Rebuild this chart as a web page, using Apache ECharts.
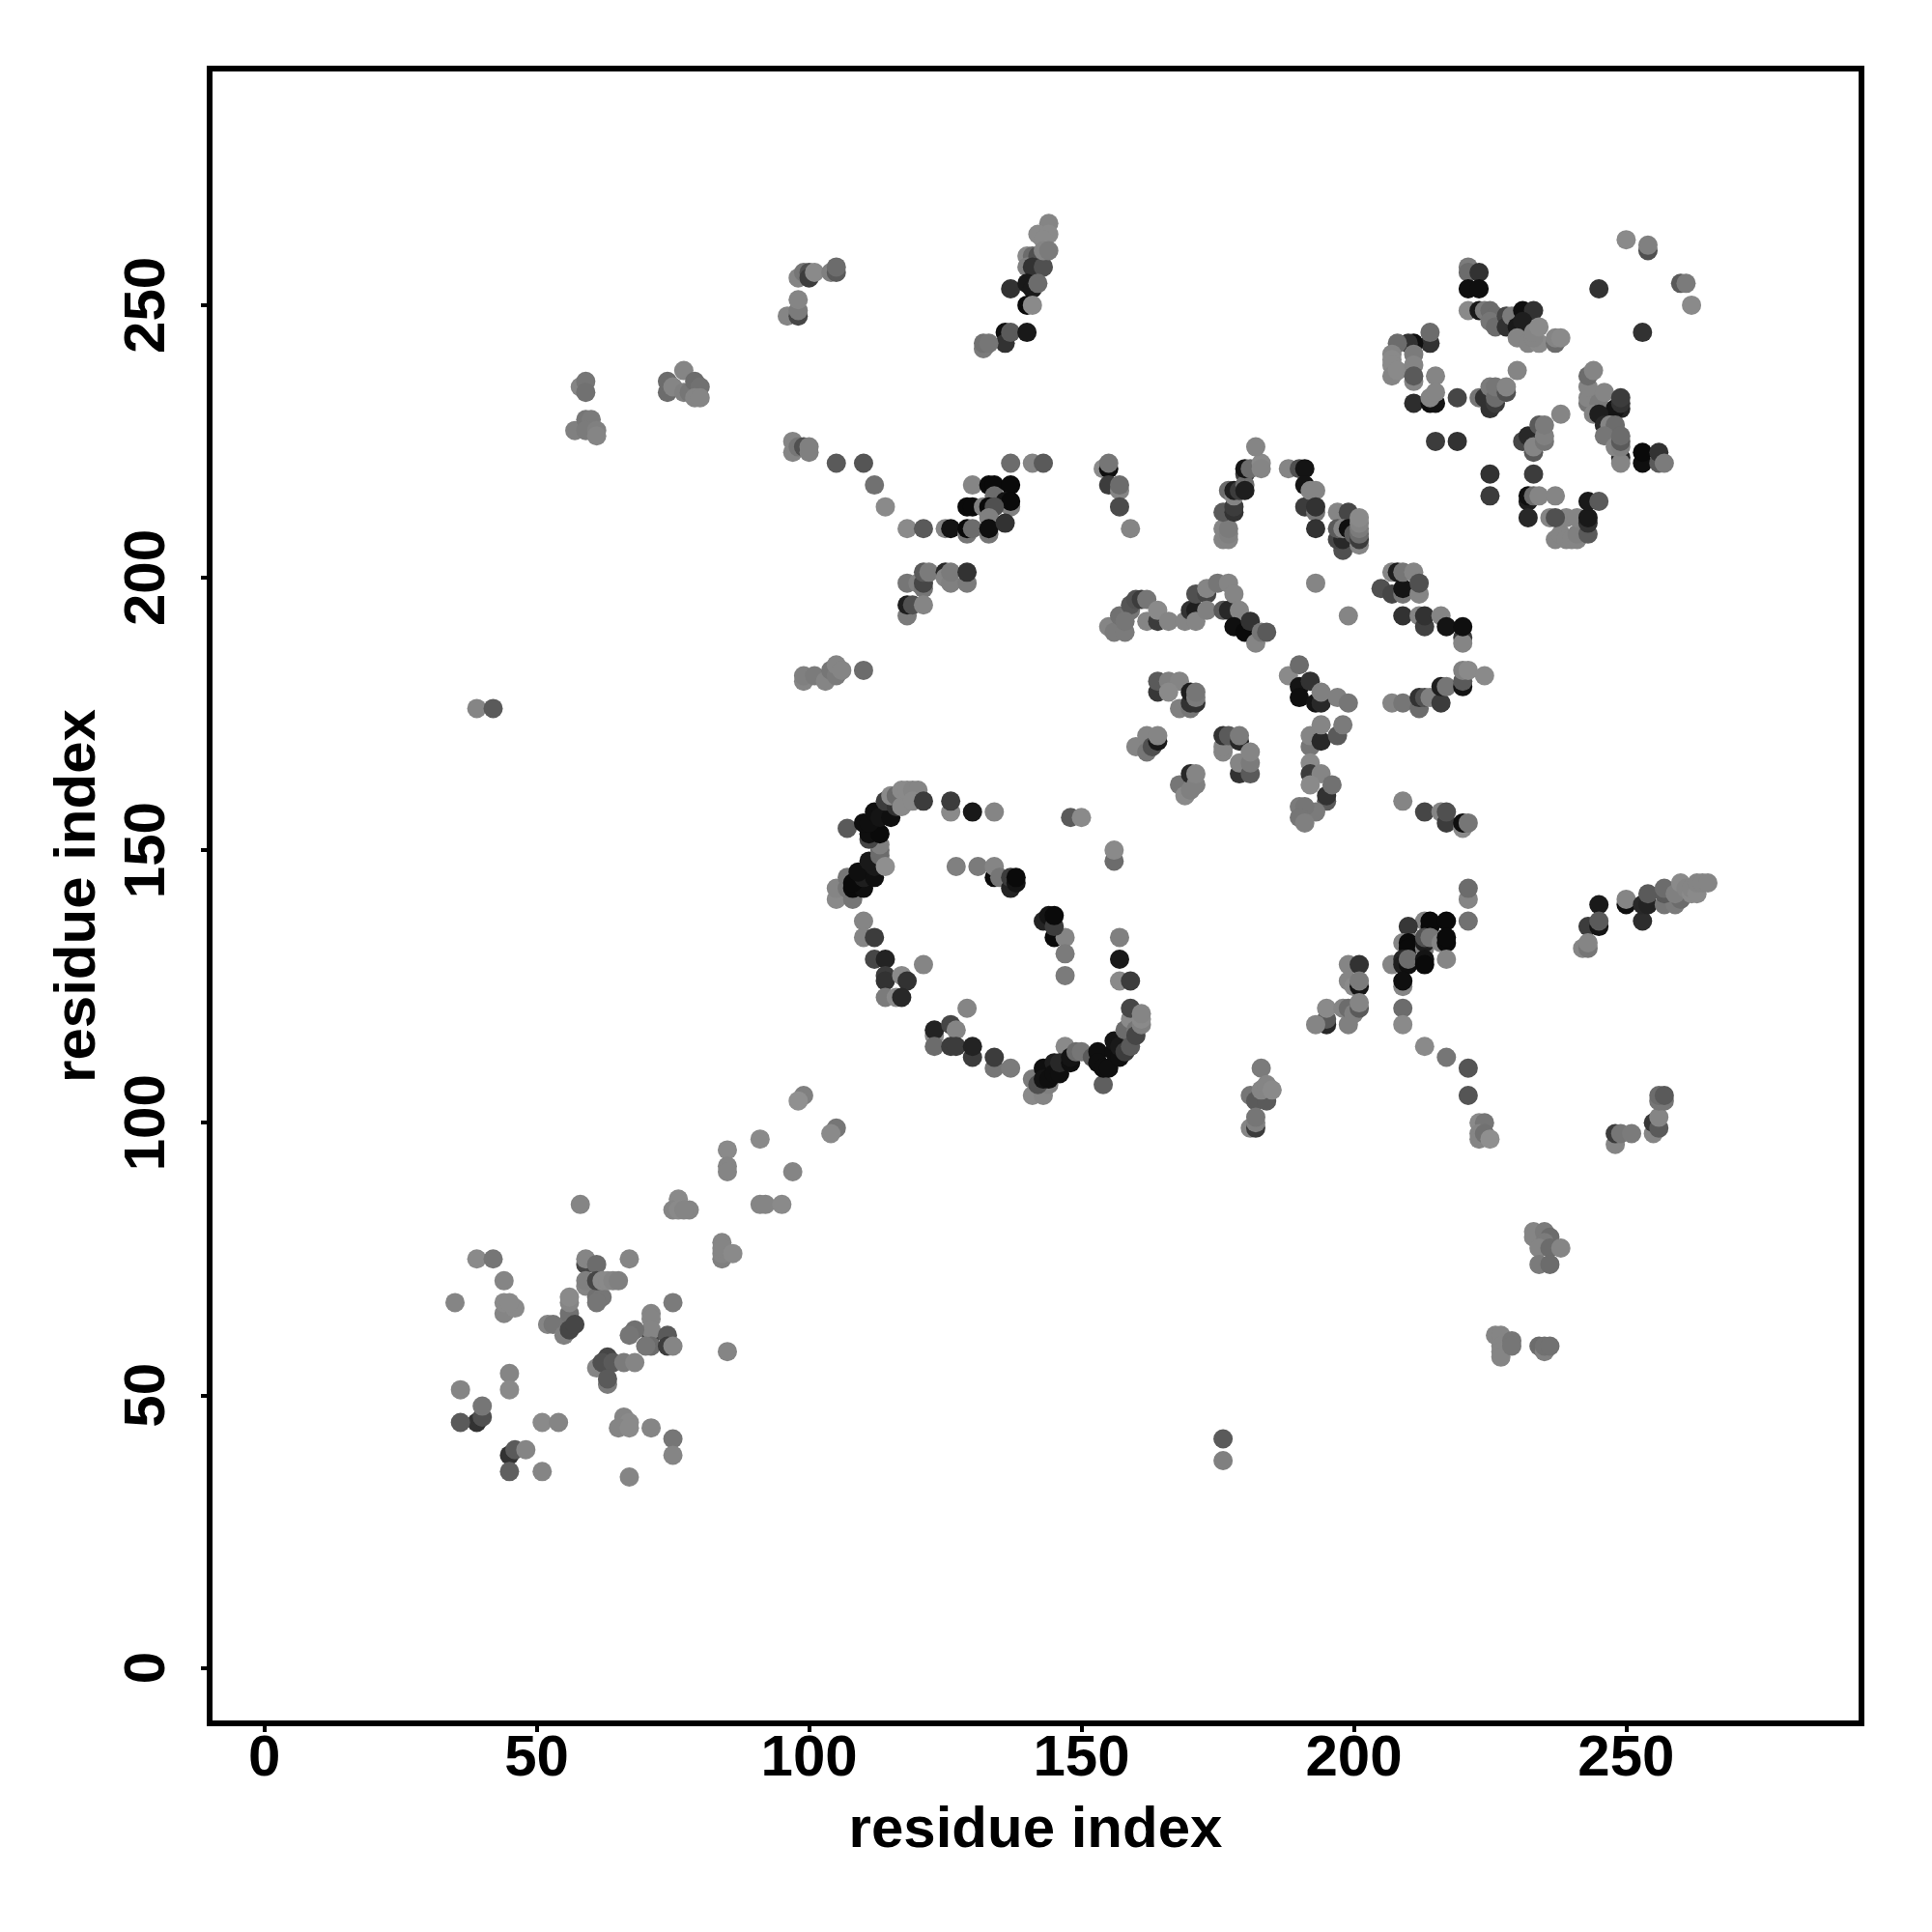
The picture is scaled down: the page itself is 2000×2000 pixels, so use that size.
<!DOCTYPE html>
<html><head><meta charset="utf-8">
<style>html,body{margin:0;padding:0;background:#fff}#c{width:2000px;height:2000px}</style>
<script src="https://cdn.jsdelivr.net/npm/echarts@6/dist/echarts.min.js"></script>
</head><body><div id="c"></div>
<script>
// Each point: [residue x, residue y, grey level]
const tickLabels = [0, 50, 100, 150, 200, 250];
const axisTitle = 'residue index';
const lowerLeft = [[99,105,120],[98,104,136],[105,99,110],[104,98,130],[91,97,130],[85,95,130],[85,92,125],[85,91,125],[97,91,125],[76,86,130],[75,84,125],[76,84,130],[78,84,125],[77,84,125],[91,85,125],[92,85,125],[95,85,130],[58,85,125],[84,78,125],[84,75,120],[84,76,125],[84,77,125],[86,76,130],[39,75,130],[42,75,110],[67,75,125],[59,74,70],[59,75,125],[61,74,100],[44,71,125],[59,70,125],[59,71,120],[61,68,105],[62,68,110],[61,67,110],[61,71,70],[62,71,130],[63,71,130],[64,71,125],[65,71,120],[35,67,125],[44,65,125],[46,66,130],[44,67,130],[45,67,130],[56,64,110],[56,65,105],[56,67,125],[56,68,130],[52,63,125],[53,63,110],[55,61,120],[56,62,70],[57,63,70],[75,67,115],[71,61,70],[71,65,125],[71,64,125],[71,62,125],[71,59,100],[68,62,105],[67,61,110],[70,59,110],[74,61,90],[74,59,60],[75,59,125],[85,58,125],[61,55,125],[63,57,70],[62,56,80],[64,56,90],[66,56,115],[68,56,125],[63,52,115],[63,53,90],[45,54,125],[45,51,130],[36,51,125],[39,45,50],[40,46,80],[40,48,110],[36,45,90],[51,45,130],[54,45,125],[66,46,125],[67,45,130],[65,44,125],[67,44,130],[71,44,125],[75,42,110],[75,39,125],[45,39,50],[46,40,90],[48,40,125],[45,36,95],[51,36,125],[67,35,125]];
const singles = [[176,42,90],[176,38,120],[39,176,125],[42,176,90]];
const ringArc = [[105,141,130],[105,143,125],[108,141,110],[107,143,110],[107,145,110],[108,143,10],[110,143,15],[108,144,10],[110,145,30],[109,146,15],[112,145,15],[112,147,25],[111,148,25],[113,149,100],[113,150,100],[113,151,120],[111,152,70],[111,153,15],[113,153,10],[114,147,135],[107,154,90],[110,155,15],[111,155,15],[112,157,15],[113,156,20],[115,156,15],[114,159,60],[116,158,50],[115,160,130],[116,160,100],[117,158,130],[117,161,130],[118,161,130],[119,161,125],[120,161,125],[119,159,130],[121,159,60],[110,137,125],[110,134,125],[112,134,60],[112,130,70],[114,130,35],[121,129,125],[114,127,60],[114,126,50],[117,127,130],[118,126,50],[114,123,115],[116,123,130],[117,123,40],[129,121,125],[123,116,130],[123,117,35],[126,118,70],[127,117,125],[123,114,100],[126,114,60],[127,114,60],[130,112,60],[130,114,35],[134,110,110],[134,112,60],[137,110,115]];
const ringLower = [[141,105,130],[143,105,125],[141,108,115],[144,107,120],[142,107,80],[143,110,15],[143,108,20],[144,108,15],[147,114,130],[145,111,30],[145,109,15],[146,109,15],[146,111,40],[148,111,15],[148,112,20],[149,113,100],[150,113,110],[152,112,90],[154,107,95],[153,113,15],[153,111,15],[154,110,15],[155,110,15],[156,113,15],[156,115,20],[157,112,15],[157,114,25],[158,113,60],[158,117,100],[159,119,130],[159,121,70],[159,114,90],[160,117,110],[160,116,70],[161,118,120],[161,119,130],[161,120,125],[157,126,130],[159,126,60],[157,130,25],[157,134,120],[145,134,10],[147,134,125],[143,137,35],[144,138,20],[145,136,60],[145,138,10],[147,131,115],[147,127,115],[127,147,120],[131,147,115],[134,145,10],[134,147,125],[135,145,110],[137,143,35],[137,145,60],[138,144,20],[138,145,10],[126,157,130],[126,159,60],[130,157,25],[134,157,125],[148,156,90],[150,156,130],[156,148,100],[156,150,130]];
const flowerLeft = [[155,191,125],[156,190,115],[158,190,115],[157,193,105],[159,194,110],[159,195,85],[158,192,110],[160,196,80],[161,196,60],[162,192,125],[162,196,110],[164,192,60],[164,194,130],[166,192,125],[169,192,125],[170,194,50],[171,194,30],[171,192,125],[171,197,80],[173,197,70],[173,198,125],[173,194,120],[175,199,110],[176,194,90],[177,194,40],[177,199,125],[178,197,125],[179,194,125],[178,191,15],[180,190,10],[181,192,50],[182,188,125],[183,190,110],[184,190,90]];
const flowerInner = [[164,179,55],[164,181,90],[166,181,120],[168,181,125],[166,179,130],[168,176,120],[170,176,110],[170,177,50],[170,179,30],[171,177,50],[171,178,115],[171,179,110],[160,169,125],[162,168,110],[162,171,125],[163,169,80],[164,170,25],[164,171,125],[176,168,125],[176,169,125],[176,171,50],[177,171,90],[179,170,40],[179,171,115],[179,164,50],[179,166,125],[181,164,90],[181,166,115],[181,168,125],[168,162,110],[169,160,130],[170,161,120],[170,164,40],[171,162,120],[171,164,125]];
const flowerCross = [[188,182,130],[190,184,100],[190,180,20],[190,178,15],[192,181,50],[193,177,20],[194,177,40],[194,179,120],[197,178,120],[199,177,110],[192,169,110],[192,171,125],[194,170,40],[194,173,125],[197,171,90],[198,173,115],[192,166,130],[192,164,60],[194,164,125],[192,162,130],[195,159,90],[195,160,50],[196,162,105],[193,157,115],[190,158,115],[191,158,110],[190,156,110],[191,155,120]];
const flowerRight = [[207,177,125],[209,177,110],[212,176,100],[212,178,50],[213,178,80],[214,178,120],[216,177,60],[216,180,30],[217,180,110],[220,180,20],[220,181,90],[220,183,120],[221,183,130],[224,182,130],[205,198,80],[207,197,70],[207,201,125],[208,201,30],[209,197,110],[209,198,20],[209,201,110],[211,201,125],[212,197,125],[212,199,80],[209,193,50],[212,193,125],[213,191,65],[213,193,50],[216,193,125],[217,191,20],[220,189,60],[220,188,125],[220,191,15],[193,199,125],[199,193,125],[209,159,125],[213,157,70],[216,157,125],[217,155,60],[217,157,80],[220,154,130],[220,155,15],[221,155,110]];
const midTop = [[154,220,130],[155,220,15],[155,221,110],[155,217,60],[157,216,125],[157,217,100],[157,213,75],[159,209,125],[176,207,125],[177,207,125],[176,209,125],[177,208,120],[177,209,115],[176,212,90],[178,212,50],[178,213,60],[177,216,100],[178,215,125],[178,216,30],[179,216,60],[180,219,60],[180,217,100],[180,216,30],[180,220,20],[181,220,100],[183,221,130],[183,220,125],[182,224,125],[188,220,125],[190,220,80],[191,220,20],[191,217,20],[191,213,60],[192,216,125],[193,216,125],[193,212,110],[193,213,50],[193,209,50],[197,212,125],[199,212,70],[198,205,80],[197,207,70],[198,207,40],[197,209,90],[198,209,125],[199,209,15],[200,208,90],[201,206,125],[201,207,60],[201,208,100],[201,209,115],[201,210,125],[201,211,130]];
const upperRight = [[250,262,130],[254,260,80],[254,261,120],[221,257,115],[221,256,100],[223,256,50],[221,253,15],[223,253,15],[245,253,50],[260,254,90],[261,254,115],[262,250,130],[253,245,50],[221,249,130],[223,249,25],[224,249,115],[225,249,100],[226,248,100],[225,247,110],[226,246,100],[228,248,70],[228,246,50],[229,248,115],[230,246,25],[231,249,15],[233,249,50],[231,247,30],[230,244,125],[232,243,125],[234,243,130],[233,244,125],[233,245,125],[234,246,130],[237,243,100],[237,244,125],[238,244,130],[214,243,50],[214,245,100],[211,243,15],[210,243,50],[208,243,100],[207,241,125],[207,240,130],[207,239,130],[207,237,125],[208,238,130],[211,241,115],[211,239,125],[211,236,125],[211,237,90],[215,237,125],[211,232,45],[214,232,15],[215,232,20],[214,233,125],[215,234,125],[219,233,70],[223,233,110],[224,233,50],[225,231,50],[226,232,60],[225,235,115],[226,233,100],[226,235,110],[228,234,80],[228,235,125],[230,238,125],[215,225,60],[219,225,50],[238,230,125]];
const upperRightLow = [[231,225,70],[232,226,40],[233,223,90],[233,224,125],[234,228,90],[235,225,110],[235,226,120],[235,228,115],[225,219,50],[233,219,60],[225,215,60],[232,214,30],[232,215,15],[233,215,100],[234,215,125],[232,211,40],[237,215,125],[236,211,125],[237,207,125],[238,208,125],[239,207,125],[239,211,125],[240,207,125],[241,207,125],[241,208,120],[241,211,125],[237,211,80],[243,208,90],[243,210,50],[243,211,25],[243,214,25],[245,214,90],[243,232,110],[243,233,125],[243,235,125],[243,237,100],[244,238,125],[245,232,115],[246,234,125],[249,231,35],[248,231,20],[249,232,50],[249,233,60],[244,230,125],[245,230,30],[246,228,40],[247,228,125],[248,228,100],[246,226,110],[249,222,40],[249,221,125],[248,224,125],[249,224,120],[249,225,90],[249,226,100],[253,221,15],[253,223,10],[256,221,90],[256,223,50],[257,221,115]];
const upperMiddle = [[98,255,125],[99,256,110],[100,256,80],[100,255,60],[101,256,130],[104,256,120],[105,256,90],[105,257,100],[96,248,125],[98,248,70],[98,249,115],[98,251,125],[144,265,125],[142,263,130],[144,263,130],[143,262,130],[140,259,130],[141,259,100],[142,259,80],[140,257,120],[141,257,50],[143,257,80],[143,260,125],[144,260,115],[137,253,50],[140,254,25],[141,253,25],[142,254,100],[140,250,10],[141,250,130],[136,245,15],[136,243,50],[137,245,90],[140,245,25],[132,242,115],[132,243,105],[133,243,110],[97,225,125],[97,223,125],[98,224,110],[99,224,80],[100,223,120],[100,224,120],[105,221,90],[110,221,85],[112,217,105],[114,213,130],[118,209,130],[121,209,90],[125,209,125],[126,209,20],[129,208,110],[129,209,10],[130,209,100],[130,217,125],[129,213,10],[130,213,10],[132,213,120],[133,217,10],[134,217,10],[137,217,10],[134,215,100],[136,214,20],[137,213,120],[137,214,10],[133,213,10],[134,213,80],[133,211,120],[133,208,110],[133,209,15],[136,210,50],[137,221,100],[141,221,125],[143,221,90]];
const lowerMiddle = [[118,193,115],[118,199,110],[120,199,120],[121,198,110],[121,199,70],[121,201,90],[122,201,115],[118,195,30],[119,195,80],[121,195,125],[125,201,40],[125,200,125],[126,199,120],[126,201,115],[129,199,115],[129,201,50],[99,181,125],[99,182,120],[101,182,115],[103,181,125],[104,183,110],[105,182,115],[105,184,125],[106,183,125],[110,183,100]];
const rightSide = [[221,137,105],[221,141,125],[221,143,100],[213,137,125],[210,136,55],[214,136,10],[214,137,10],[217,137,10],[209,133,125],[211,133,125],[210,133,10],[210,132,10],[213,132,120],[213,133,30],[213,134,80],[214,134,110],[216,133,125],[217,133,10],[217,134,10],[207,129,125],[209,130,40],[209,129,30],[210,129,15],[210,130,100],[213,130,20],[213,129,10],[217,130,125],[209,125,125],[209,126,15],[209,121,100],[209,118,130],[213,114,130],[217,112,110],[221,110,85],[221,105,85],[223,100,130],[224,100,110],[223,98,125],[223,97,125],[224,98,105],[225,97,135],[199,129,125],[201,129,50],[199,126,125],[200,125,130],[201,125,20],[201,126,115],[195,118,40],[195,119,90],[193,118,125],[195,121,130],[198,121,125],[199,118,120],[199,121,100],[200,120,120],[201,121,90],[201,122,125],[183,110,115],[181,105,110],[182,104,90],[184,104,90],[183,106,125],[184,107,125],[185,106,130],[181,99,125],[182,99,60],[182,100,120],[182,101,110]];
const rightChain = [[245,140,25],[250,140,15],[250,141,125],[253,137,45],[253,140,40],[254,140,35],[254,142,90],[243,136,60],[245,136,20],[245,137,90],[242,132,125],[243,132,110],[243,133,125],[257,140,110],[259,140,115],[257,142,90],[257,143,100],[260,141,100],[259,142,120],[260,144,130],[261,143,125],[262,142,130],[262,143,125],[263,142,130],[263,144,125],[264,144,125],[265,144,125]];
const lowerRight = [[248,96,125],[248,98,60],[249,98,110],[251,98,115],[255,98,125],[255,100,55],[256,99,90],[256,101,125],[256,104,110],[257,104,110],[256,105,100],[257,105,90],[233,80,125],[233,79,125],[235,80,115],[236,79,100],[235,78,115],[234,77,125],[236,77,100],[238,77,125],[234,74,115],[236,74,100],[226,61,125],[227,61,125],[227,59,125],[227,58,125],[227,57,125],[229,60,110],[229,59,110],[234,59,100],[235,58,120],[235,59,105],[236,59,105]];
const topLeft = [[58,235,125],[59,236,110],[59,234,105],[57,227,120],[59,229,110],[60,229,115],[59,227,115],[61,227,120],[61,226,125],[74,234,100],[74,236,100],[75,235,125],[77,238,125],[77,234,120],[78,234,110],[79,236,100],[80,235,105],[79,233,125],[80,233,125]];

const allPoints = [].concat(lowerLeft, singles, ringArc, ringLower, flowerLeft, flowerInner, flowerCross, flowerRight, midTop, upperRight, upperRightLow, upperMiddle, lowerMiddle, rightSide, rightChain, lowerRight, topLeft);

const font = 'Liberation Sans';
const chart = echarts.init(document.getElementById('c'), null, {renderer:'canvas', width:2000, height:2000});
function axis(nameGap, labelMargin, rotate, nameRotate){
  return {
    type:'value', min:-10.05, max:293.2,
    name:axisTitle, nameLocation:'middle', nameGap:nameGap, nameRotate:nameRotate,
    nameTextStyle:{fontFamily:font, fontWeight:'bold', fontSize:60, color:'#000'},
    splitLine:{show:false},
    axisLine:{show:false, onZero:false},
    axisTick:{show:true, length:9, lineStyle:{color:'#000', width:4}, customValues:tickLabels},
    axisLabel:{show:true, rotate:rotate, margin:labelMargin, fontFamily:font, fontWeight:'bold', fontSize:60, color:'#000', customValues:tickLabels, hideOverlap:false}
  };
}
chart.setOption({
  animation:false,
  backgroundColor:'#fff',
  grid:{show:true, left:217, right:73, top:71, bottom:216, borderColor:'#000', borderWidth:6, backgroundColor:'transparent', containLabel:false},
  xAxis:axis(81,7,0,0),
  yAxis:Object.assign(axis(106,34,90,90),{min:-10.2,max:293.4}),
  tooltip:{show:false},
  series:[{
    type:'scatter', data:allPoints, symbol:'circle', symbolSize:20, silent:true,
    encode:{x:0,y:1},
    itemStyle:{opacity:1, color:function(p){const g=p.data[2]+(p.data[2]>=100?8:0);return 'rgb('+g+','+g+','+g+')';}}
  }]
});
</script></body></html>
